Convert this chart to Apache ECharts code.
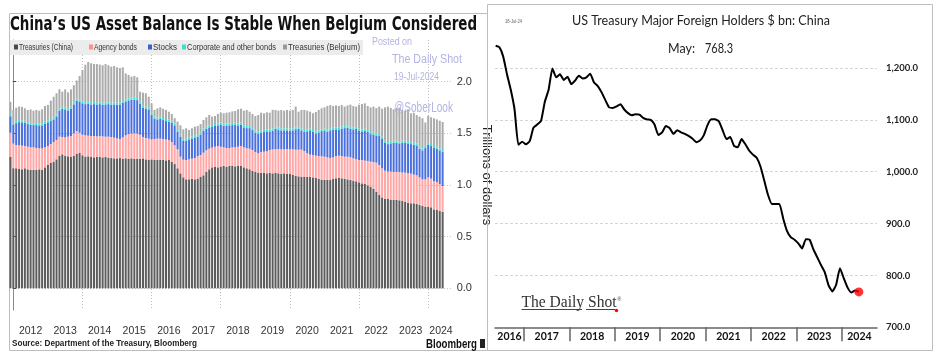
<!DOCTYPE html>
<html><head><meta charset="utf-8">
<script src="https://cdn.jsdelivr.net/npm/echarts@6/dist/echarts.min.js"></script>
<style>html,body{margin:0;padding:0;background:#fff}#c{width:943px;height:357px}</style>
</head><body><div id="c"></div>
<script>
// ---------------- LEFT CHART DATA (trillions of dollars), month-end bars Nov-2011 .. May-2024 ----------------
const leftStart = [2011, 11];
const seriesNames = ['Treasuries (China)', 'Agency bonds', 'Stocks', 'Corporate and other bonds', 'Treasuries (Belgium)'];
const chinaTreasuries = [
  1.274,1.162,1.162,1.155,1.152,1.162,1.152,1.146,1.146,1.146,1.152,1.146,
  1.171,1.194,1.216,1.226,1.249,1.284,1.297,1.284,1.278,1.274,1.281,1.303,
  1.313,1.288,1.274,1.278,1.274,1.268,1.274,1.271,1.268,1.271,1.265,1.261,
  1.258,1.258,1.261,1.255,1.258,1.255,1.258,1.252,1.255,1.255,1.258,1.248,
  1.245,1.248,1.242,1.245,1.242,1.242,1.239,1.242,1.226,1.203,1.162,1.113,
  1.074,1.055,1.055,1.058,1.055,1.062,1.081,1.094,1.126,1.152,1.171,1.178,
  1.171,1.178,1.184,1.178,1.184,1.187,1.181,1.184,1.184,1.171,1.162,1.152,
  1.136,1.126,1.120,1.117,1.120,1.113,1.117,1.113,1.117,1.113,1.110,1.113,
  1.107,1.107,1.100,1.090,1.084,1.081,1.081,1.078,1.081,1.074,1.068,1.058,
  1.052,1.049,1.049,1.048,1.058,1.065,1.068,1.065,1.061,1.055,1.048,1.042,
  1.036,1.026,1.016,1.010,0.997,0.984,0.965,0.936,0.903,0.880,0.867,0.865,
  0.858,0.855,0.855,0.852,0.845,0.839,0.829,0.823,0.823,0.816,0.806,0.797,
  0.790,0.790,0.784,0.764,0.758,0.748,0.742
];
const agencyBonds = [
  0.232,0.241,0.225,0.229,0.229,0.216,0.219,0.219,0.219,0.212,0.203,0.209,
  0.194,0.184,0.181,0.190,0.187,0.184,0.168,0.177,0.190,0.200,0.219,0.220,
  0.193,0.199,0.207,0.200,0.200,0.206,0.197,0.203,0.203,0.197,0.203,0.204,
  0.200,0.194,0.184,0.206,0.223,0.239,0.239,0.248,0.242,0.232,0.207,0.207,
  0.204,0.194,0.203,0.204,0.207,0.203,0.203,0.194,0.190,0.181,0.183,0.161,
  0.171,0.187,0.194,0.197,0.206,0.216,0.210,0.219,0.210,0.200,0.191,0.193,
  0.207,0.193,0.181,0.180,0.174,0.178,0.184,0.187,0.194,0.194,0.193,0.200,
  0.203,0.194,0.187,0.203,0.203,0.213,0.222,0.232,0.228,0.236,0.235,0.232,
  0.242,0.238,0.245,0.252,0.258,0.261,0.248,0.229,0.213,0.217,0.216,0.223,
  0.226,0.225,0.219,0.214,0.210,0.216,0.216,0.216,0.213,0.219,0.220,0.216,
  0.213,0.216,0.226,0.226,0.236,0.242,0.258,0.280,0.291,0.282,0.272,0.264,
  0.271,0.271,0.271,0.274,0.275,0.281,0.284,0.287,0.277,0.278,0.268,0.258,
  0.265,0.284,0.277,0.272,0.271,0.262,0.248
];
const stocks = [
  0.159,0.181,0.212,0.225,0.225,0.225,0.219,0.219,0.215,0.222,0.222,0.222,
  0.228,0.228,0.222,0.219,0.228,0.251,0.273,0.271,0.254,0.264,0.280,0.293,
  0.303,0.303,0.302,0.309,0.306,0.309,0.309,0.309,0.306,0.312,0.315,0.312,
  0.322,0.325,0.335,0.335,0.328,0.325,0.328,0.325,0.325,0.300,0.283,0.283,
  0.283,0.238,0.197,0.186,0.193,0.184,0.177,0.177,0.187,0.193,0.168,0.194,
  0.181,0.187,0.192,0.196,0.196,0.190,0.196,0.213,0.209,0.206,0.199,0.200,
  0.199,0.213,0.209,0.219,0.219,0.215,0.219,0.206,0.206,0.193,0.196,0.199,
  0.193,0.186,0.193,0.186,0.190,0.193,0.180,0.181,0.200,0.186,0.184,0.184,
  0.180,0.181,0.184,0.197,0.203,0.187,0.184,0.212,0.235,0.222,0.216,0.229,
  0.244,0.252,0.248,0.267,0.267,0.257,0.254,0.264,0.277,0.280,0.277,0.280,
  0.296,0.283,0.277,0.289,0.280,0.267,0.264,0.264,0.280,0.286,0.270,0.267,
  0.274,0.283,0.283,0.277,0.289,0.289,0.290,0.286,0.290,0.289,0.277,0.280,
  0.303,0.316,0.316,0.322,0.322,0.325,0.329
];
const corporateBonds = [
  0.022,0.020,0.020,0.021,0.020,0.020,0.020,0.019,0.020,0.020,0.020,0.020,
  0.020,0.021,0.020,0.020,0.020,0.021,0.020,0.020,0.020,0.020,0.021,0.021,
  0.021,0.020,0.020,0.020,0.020,0.020,0.020,0.021,0.020,0.020,0.020,0.020,
  0.020,0.020,0.020,0.020,0.020,0.021,0.020,0.020,0.020,0.020,0.020,0.020,
  0.020,0.020,0.020,0.019,0.020,0.020,0.020,0.020,0.020,0.020,0.020,0.020,
  0.020,0.020,0.020,0.020,0.020,0.020,0.020,0.020,0.021,0.020,0.020,0.020,
  0.020,0.020,0.020,0.020,0.020,0.020,0.020,0.020,0.020,0.020,0.020,0.020,
  0.020,0.020,0.020,0.020,0.020,0.020,0.020,0.021,0.020,0.020,0.020,0.020,
  0.020,0.020,0.020,0.020,0.020,0.020,0.020,0.020,0.020,0.020,0.020,0.020,
  0.020,0.020,0.021,0.020,0.020,0.020,0.020,0.021,0.020,0.020,0.020,0.020,
  0.020,0.020,0.020,0.020,0.020,0.020,0.020,0.020,0.020,0.020,0.020,0.020,
  0.021,0.020,0.020,0.020,0.020,0.020,0.020,0.020,0.020,0.020,0.020,0.020,
  0.021,0.022,0.020,0.020,0.020,0.020,0.020
];
const belgiumTreasuries = [
  0.119,0.123,0.130,0.130,0.130,0.120,0.117,0.129,0.120,0.127,0.123,0.136,
  0.152,0.149,0.178,0.200,0.204,0.187,0.146,0.174,0.155,0.168,0.165,0.174,
  0.226,0.303,0.362,0.384,0.378,0.368,0.371,0.362,0.362,0.371,0.356,0.349,
  0.352,0.342,0.333,0.323,0.252,0.226,0.204,0.210,0.200,0.097,0.126,0.130,
  0.103,0.091,0.065,0.088,0.090,0.090,0.088,0.077,0.065,0.049,0.081,0.090,
  0.093,0.100,0.072,0.078,0.088,0.083,0.084,0.084,0.090,0.100,0.081,0.077,
  0.091,0.096,0.100,0.103,0.107,0.113,0.113,0.136,0.135,0.142,0.156,0.139,
  0.136,0.142,0.158,0.174,0.161,0.165,0.161,0.181,0.162,0.165,0.178,0.171,
  0.178,0.174,0.178,0.200,0.145,0.178,0.194,0.181,0.161,0.161,0.187,0.197,
  0.201,0.206,0.229,0.225,0.210,0.213,0.207,0.209,0.188,0.197,0.213,0.207,
  0.194,0.233,0.245,0.246,0.232,0.239,0.252,0.245,0.265,0.271,0.323,0.343,
  0.322,0.304,0.316,0.326,0.297,0.291,0.310,0.278,0.290,0.275,0.291,0.291,
  0.226,0.258,0.259,0.268,0.265,0.268,0.271
];
const leftYearLabels = ['2012','2013','2014','2015','2016','2017','2018','2019','2020','2021','2022','2023','2024'];
const leftGridYears = [2012, 2014, 2016, 2018, 2020, 2022, 2024];
const leftYTicks = [0, 0.5, 1.0, 1.5, 2.0];

// ---------------- RIGHT CHART DATA ($ bn), monthly May-2016 .. May-2024 ----------------
const rightStart = [2016, 5];
const chinaHoldings = [
  1243,1240,1222,1188,1158,1120,1052,1058,
  1053,1059,1085,1091,1098,1135,1158,1199,1182,1188,1177,1183,
  1169,1176,1185,1180,1182,1189,1172,1165,1153,1138,1124,1123,
  1126,1130,1120,1113,1109,1111,1110,1104,1101,1100,1091,1071,
  1076,1088,1084,1073,1080,1076,1073,1069,1064,1057,1060,1070,
  1090,1101,1101,1097,1080,1063,1067,1050,1047,1063,1053,1041,
  1033,1027,1010,983,955,938,938,938,910,886,874,869,
  862,852,870,869,850,835,820,806,781,769,782,814,
  795,777,767,771,768.3
];
const rightYearLabels = ['2016','2017','2018','2019','2020','2021','2022','2023','2024'];

// ---------------- helpers ----------------
const ctx = document.createElement('canvas').getContext('2d');
function txt(text, x, y, o) {
  const font = (o.style || 'normal') + ' ' + (o.weight || 'normal') + ' ' + o.size + 'px ' + o.family;
  let sx = 1;
  if (o.width) { ctx.font = font; sx = o.width / ctx.measureText(text).width; }
  return { type: 'text', x: x, y: y, scaleX: sx, z: o.z || 10, rotation: o.rot || 0, silent: true,
    style: { text: text, font: font, fill: o.color, align: o.align || 'left', verticalAlign: 'middle', opacity: o.opacity == null ? 1 : o.opacity } };
}

// left: category slots, one per month-end (Nov-2011 ...), padded by 3 empty slots at the right edge
const N_SLOTS = chinaTreasuries.length + 3;
const leftCats = [];
for (let i = 0; i < N_SLOTS; i++) {
  const t = leftStart[0] * 12 + (leftStart[1] - 1) + i;
  leftCats.push(Math.floor(t / 12) + '-' + String(t % 12 + 1).padStart(2, '0'));
}
// left value axis (months since 1-Jan-2012) used for year labels and vertical grid
const L_MIN = -1.49, L_MAX = 152.57;
const leftLabelPos = leftYearLabels.map(y => Math.min((+y - 2012) * 12 + 6, 148.5));
const leftGridPos = leftGridYears.map(y => (y - 2012) * 12);
// right x positions: mid-month, months since Jan-2016
const rightX = chinaHoldings.map((_, i) => (rightStart[0] - 2016) * 12 + (rightStart[1] - 1) + i + 0.5);
const R_MIN = 4.33, R_MAX = 105.3;
const rightTickPos = rightYearLabels.slice(1).map(y => (+y - 2016) * 12);
const rightLabelPos = rightYearLabels.map(y => {
  const a = Math.max((+y - 2016) * 12, R_MIN), b = Math.min((+y - 2015) * 12, R_MAX);
  return (a + b) / 2;
});

const colors = ['#5c5c5c', '#ffa6a6', '#4a70dd', '#3ee0c6', '#ababab'];
const legendColors = ['#4a4a4a', '#ff8f8f', '#3a5fd0', '#3ee0c6', '#9a9a9a'];
const leftSeriesData = [chinaTreasuries, agencyBonds, stocks, corporateBonds, belgiumTreasuries];

// legend drawn as graphic items (square + real text)
const legendSq = [14, 89, 148, 182, 283];
const legendTx = [[19, 54], [94, 43], [153, 24], [187, 89], [288, 72]];
const legendGraphics = [];
seriesNames.forEach((n, i) => {
  legendGraphics.push({ type: 'rect', shape: { x: legendSq[i], y: 44.5, width: 4, height: 5 }, style: { fill: legendColors[i] }, z: 12, silent: true });
  legendGraphics.push(txt(n, legendTx[i][0], 47.5, { size: 9, family: 'Liberation Sans', color: '#333', width: legendTx[i][1], z: 12 }));
});

const chart = echarts.init(document.getElementById('c'), null, { renderer: 'canvas' });

const option = {
  animation: false,
  textStyle: { fontFamily: 'Liberation Sans' },
  grid: [
    { left: 9, right: 490.3, top: 40, bottom: 47 },
    { left: 495, right: 66, top: 36.9, bottom: 29.7 }
  ],
  xAxis: [
    { type: 'value', gridIndex: 0, min: L_MIN, max: L_MAX,
      axisLine: { show: false },
      axisTick: { show: false, customValues: leftGridPos },
      splitLine: { show: true, lineStyle: { color: '#bdbdbd', type: [1, 2], width: 1 } },
      axisLabel: { customValues: leftYearLabels.length ? leftLabelPos : [], margin: 16, fontSize: 10.5, color: '#333',
        formatter: v => String(2012 + Math.floor(v / 12)) } },
    { type: 'value', gridIndex: 1, min: R_MIN, max: R_MAX,
      axisLine: { show: true, lineStyle: { color: '#666', width: 1.5 } },
      axisTick: { show: true, customValues: rightTickPos, length: 14, lineStyle: { color: '#666', width: 1.5 } },
      splitLine: { show: false },
      axisLabel: { customValues: rightLabelPos, margin: 4, fontSize: 10.5, fontWeight: 'bold', color: '#111', fontFamily: 'Lato',
        formatter: v => String(2016 + Math.floor(v / 12)) } },
    { type: 'category', gridIndex: 0, data: leftCats, show: false, boundaryGap: true }
  ],
  yAxis: [
    { type: 'value', gridIndex: 0, position: 'right', min: -0.21, max: 2.404,
      axisLine: { show: true, lineStyle: { color: '#8a8a8a', width: 1 } },
      axisTick: { show: true, customValues: leftYTicks, length: 3, lineStyle: { color: '#444' } },
      axisLabel: { customValues: leftYTicks, margin: 4, fontSize: 11, color: '#333', formatter: v => v.toFixed(1) },
      splitLine: { show: true, lineStyle: { color: '#c4c4c4', type: [1, 2] } },
      name: 'Trillions of dollars', nameLocation: 'middle', nameRotate: -90, nameGap: 27,
      nameTextStyle: { fontSize: 13, color: '#222' } },
    { type: 'value', gridIndex: 1, position: 'right', min: 700, max: 1260, interval: 100,
      axisLine: { show: false }, axisTick: { show: false },
      axisLabel: { showMaxLabel: false, margin: 9, fontSize: 9.5, fontWeight: 'bold', color: '#222', fontFamily: 'Lato',
        formatter: v => v.toLocaleString('en-US', { minimumFractionDigits: 1, maximumFractionDigits: 1 }) },
      splitLine: { show: true, showMinLine: false, showMaxLine: false, lineStyle: { color: '#d6d6d6', type: [3, 2] } } }
  ],
  series: leftSeriesData.map((arr, si) => ({
    name: seriesNames[si], type: 'bar', stack: 'left', xAxisIndex: 2, yAxisIndex: 0,
    barWidth: 2, silent: true, itemStyle: { color: colors[si] },
    data: arr.slice()
  })).concat([
    { name: 'China holdings', type: 'line', xAxisIndex: 1, yAxisIndex: 1, showSymbol: false, smooth: 0.15, silent: true,
      lineStyle: { color: '#000', width: 2 }, data: chinaHoldings.map((v, i) => [rightX[i], v]) },
    { name: 'Latest', type: 'scatter', xAxisIndex: 1, yAxisIndex: 1, symbolSize: 9, silent: true, z: 5,
      itemStyle: { color: '#ff0000' },
      data: [[rightX[rightX.length - 1], chinaHoldings[chinaHoldings.length - 1]]] }
  ]),
  graphic: [
    // panel borders
    { type: 'rect', shape: { x: 9.5, y: 13.5, width: 478, height: 337 }, style: { fill: 'none', stroke: '#bdbdbd', lineWidth: 1 }, z: 1, silent: true },
    { type: 'rect', shape: { x: 487.5, y: 4.5, width: 445, height: 346 }, style: { fill: 'none', stroke: '#bdbdbd', lineWidth: 1 }, z: 1, silent: true },
    // legend band
    { type: 'rect', shape: { x: 10, y: 40, width: 353, height: 15 }, style: { fill: '#ececec' }, z: 11, silent: true },
    // left title
    txt("China\u2019s US Asset Balance Is Stable When Belgium Considered", 10, 25.5, { size: 19, weight: 'bold', family: 'DejaVu Sans', color: '#111', width: 467 }),
    // watermark
    txt('Posted on', 372, 42.5, { size: 10, family: 'Liberation Sans', color: '#b3b3e3', width: 40, z: 30 }),
    txt('The Daily Shot', 392, 59.5, { size: 12, family: 'Liberation Sans', color: '#b3b3e3', width: 70, z: 30 }),
    txt('19-Jul-2024', 394, 77, { size: 10, family: 'Liberation Sans', color: '#b3b3e3', width: 45, z: 30 }),
    txt('@SoberLook', 394, 108, { size: 14, family: 'Liberation Sans', color: '#b3b3e3', width: 59, z: 30 }),
    // source & brand
    txt('Source: Department of the Treasury, Bloomberg', 12, 344, { size: 9, weight: 'bold', family: 'Liberation Sans', color: '#222', width: 185 }),
    txt('Bloomberg', 426, 345, { size: 12, weight: 'bold', family: 'Liberation Sans', color: '#111', width: 51 }),
    { type: 'rect', shape: { x: 480, y: 339, width: 5, height: 9 }, style: { fill: '#222' }, z: 10, silent: true },
    // right panel texts
    txt('18-Jul-24', 505, 21, { size: 5.5, family: 'Liberation Sans', color: '#666', width: 17 }),
    txt('US Treasury Major Foreign Holders $ bn: China', 572, 20, { size: 14, family: 'Lato', color: '#222', width: 258 }),
    txt('May:', 668, 48.5, { size: 13, family: 'Lato', color: '#222', width: 27 }),
    txt('768.3', 733, 48.5, { size: 13, family: 'Lato', color: '#222', width: 28, align: 'right' }),
    // logo
    txt('The Daily Shot', 521.5, 302.5, { size: 16, family: 'Liberation Serif', color: '#333', width: 95 }),
    { type: 'line', shape: { x1: 521.5, y1: 309.5, x2: 582, y2: 309.5 }, style: { stroke: '#444', lineWidth: 1 }, z: 10, silent: true },
    { type: 'line', shape: { x1: 586, y1: 309.5, x2: 615, y2: 309.5 }, style: { stroke: '#444', lineWidth: 1 }, z: 10, silent: true },
    { type: 'circle', shape: { cx: 616.5, cy: 310.5, r: 1.7 }, style: { fill: '#ff0000' }, z: 11, silent: true },
    txt('\u00ae', 617.5, 299.5, { size: 5, family: 'Liberation Sans', color: '#333' })
  ].concat(legendGraphics)
};
chart.setOption(option);
</script>
</body></html>
